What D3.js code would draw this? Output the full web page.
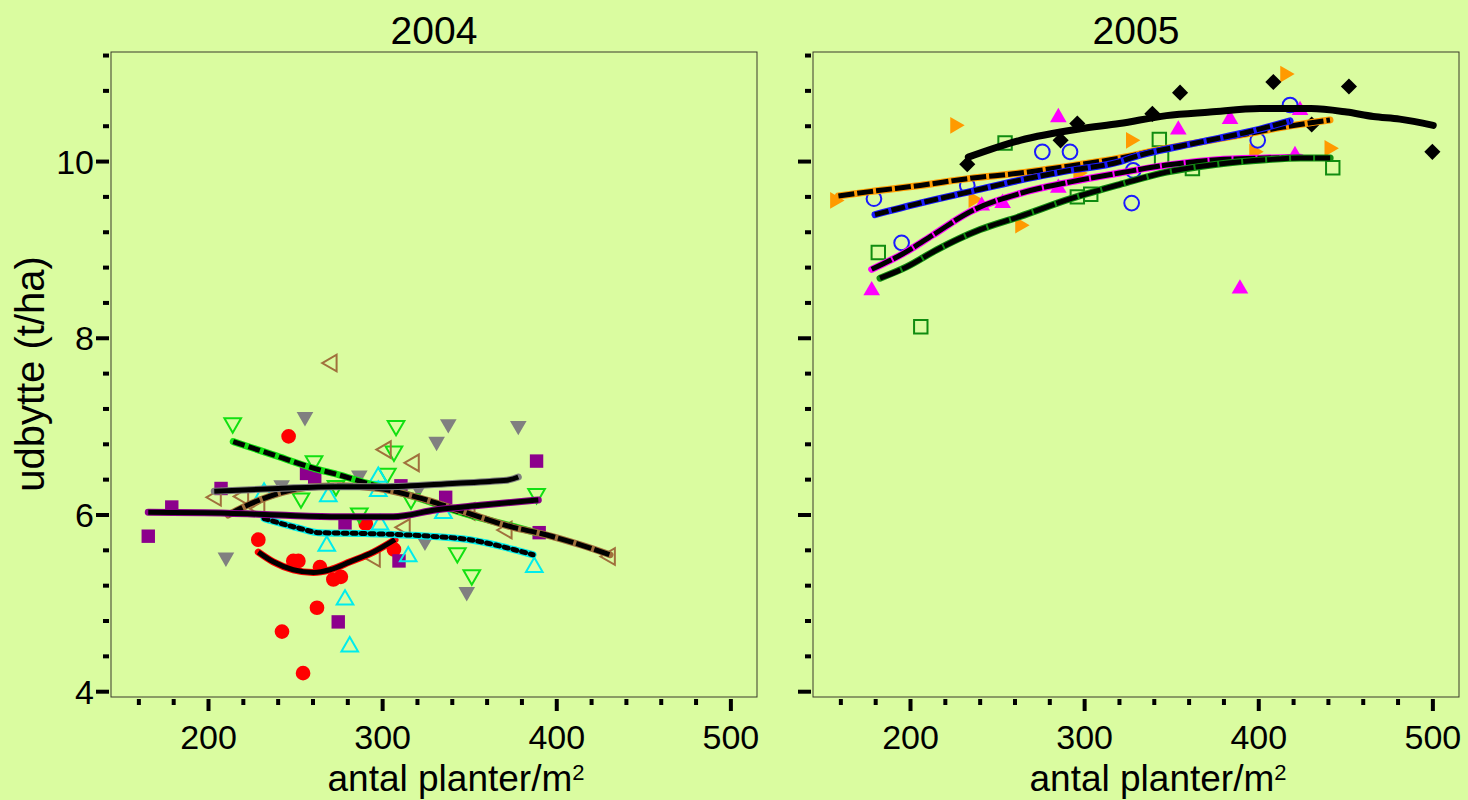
<!DOCTYPE html>
<html>
<head>
<meta charset="utf-8">
<script src="https://cdn.jsdelivr.net/npm/d3@7"></script>
<style>
  body { margin: 0; background: #dafca0; }
  svg { display: block; font-family: "Liberation Sans", Arial, sans-serif; }
</style>
</head>
<body>
<div id="chart"></div>
<script>
// 2004 data [plants/m2, t/ha]
var red2004 = [[246,6.89],[228.6,5.72],[248.7,5.48],[251.6,5.48],[264,5.41],[271.7,5.27],[276,5.30],[262.3,4.95],[242.2,4.68],[254.3,4.21],[290.3,5.90],[306.5,5.61]];
var purple2004 = [[165.4,5.76],[178.9,6.09],[207.2,6.30],[256.3,6.47],[261,6.43],[278.4,5.91],[274.5,4.79],[310.5,6.33],[309.4,5.48],[336.2,6.20],[388.4,6.61],[389.9,5.80]];
var gray2004 = [[255.4,7.11],[242,6.34],[210,5.52],[286.6,6.45],[331,6.83],[337.7,7.03],[377.9,7.01],[320.6,6.30],[324.3,5.70],[348.3,5.13]];
var green2004 = [[213.9,7.04],[260.6,6.61],[253.1,6.19],[307.7,7.01],[306.5,6.72],[302.7,6.47],[273.2,6.33],[316.3,6.18],[388.4,6.24],[286.6,6.02],[342.9,5.57],[351.2,5.32]];
var cyan2004 = [[231.9,6.25],[268.8,6.21],[267.9,5.65],[278.4,5.04],[281.1,4.51],[297.5,6.43],[297.5,6.27],[334.9,6.02],[298.5,5.89],[314.7,5.53],[387.1,5.41]];
var brown2004 = [[270.8,7.72],[301.9,6.74],[318,6.59],[204.3,6.20],[220,6.21],[229.3,6.07],[312.8,5.86],[295.6,5.51],[371.3,5.83],[430.6,5.53],[350,6.04]];

// 2004 fitted curves
var redFit2004 = [[228.6,5.58],[237.2,5.47],[248.7,5.38],[260.2,5.35],[269.8,5.38],[281.3,5.47],[294.7,5.58],[307.1,5.72]];
var cyanFit2004 = [[231.9,5.96],[240.5,5.91],[252,5.85],[263.5,5.80],[290,5.79],[327,5.76],[350,5.72],[365,5.66],[377,5.60],[386.4,5.55]];
var greenFit2004 = [[214.2,6.83],[237.2,6.68],[260.2,6.53],[275.5,6.45],[290.8,6.36],[317.6,6.21],[346.3,6.02],[375,5.87],[388,5.80]];
var brownFit2004 = [[211.3,6.0],[218,6.07],[229.5,6.17],[242.9,6.26],[256.2,6.31],[275.5,6.33],[298,6.30],[320,6.2],[346,6.04],[375,5.86],[391,5.79],[414,5.66],[430.6,5.55]];
var grayFit2004 = [[203.3,6.27],[240,6.30],[273,6.32],[300,6.32],[342.5,6.36],[361.6,6.38],[373,6.40],[377.9,6.43]];
var purpleFit2004 = [[165.4,6.03],[211,6.02],[240,6.0],[275,5.98],[306,5.98],[331,6.06],[356,6.11],[389.4,6.17]];

// 2005 data
var orange2005 = [[225.6,10.41],[326.5,10.24],[156.6,9.56],[236.1,9.57],[262.9,9.28],[296.3,9.87],[415.1,10.99],[440.5,10.15],[397.3,10.11]];
var magenta2005 = [[284.9,10.50],[240.9,9.50],[252.9,9.53],[284.9,9.70],[423.7,10.58],[383.5,10.48],[353.8,10.36],[420.8,10.07],[177.7,8.54],[389.2,8.56]];
var black2005 = [[295.8,10.43],[286.2,10.24],[232.6,9.97],[408.4,10.90],[451.8,10.85],[354.8,10.78],[338.9,10.54],[430.4,10.42],[499.7,10.11]];
var green2005 = [[254.3,10.21],[295.8,9.60],[303.5,9.63],[342.9,10.25],[344.2,10.04],[442.5,9.93],[361.9,9.92],[181.5,8.97],[205.9,8.13]];
var blue2005 = [[275.7,10.11],[291.6,10.11],[232.6,9.73],[179,9.58],[327,9.53],[194.9,9.08],[418,10.64],[399.4,10.24],[327.9,9.90]];

// 2005 fitted curves
var blackFit2005 = [[233.2,10.05],[262.9,10.24],[297.3,10.37],[320,10.43],[347,10.52],[372,10.56],[400.7,10.60],[430,10.60],[450.5,10.56],[465.8,10.51],[481,10.48],[500.2,10.41]];
var orangeFit2005 = [[158.6,9.61],[176.7,9.66],[205.5,9.73],[234.2,9.81],[262.9,9.87],[291.6,9.95],[320.3,10.04],[347.1,10.15],[366.3,10.22],[395,10.32],[414.1,10.39],[440.9,10.47]];
var blueFit2005 = [[179.6,9.40],[205.5,9.53],[234.2,9.66],[262.9,9.79],[291.6,9.90],[320.3,10.0],[328,10.05],[366.3,10.22],[395,10.34],[418,10.46]];
var magentaFit2005 = [[177.7,8.78],[195.9,8.96],[213,9.17],[234,9.43],[263,9.64],[292,9.77],[320,9.87],[347,9.96],[376,10.02],[404,10.04],[424,10.05]];
var greenFit2005 = [[182.5,8.68],[198,8.81],[215,9.0],[240,9.23],[263,9.38],[292,9.58],[320,9.74],[347,9.88],[376,9.97],[404,10.02],[424,10.04],[441,10.04]];

var xTicks = [200, 300, 400, 500];
var yTicks = [4, 6, 8, 10];
var titles = ['2004', '2005'];

var W = 1468, H = 800;
var plotTop = 52, plotBottom = 697;
var panels = [{ x0: 111, x1: 757 }, { x0: 813, x1: 1459 }];

var svg = d3.select('#chart').append('svg').attr('width', W).attr('height', H);
svg.append('rect').attr('width', W).attr('height', H).attr('fill', '#dafca0');

var y = d3.scaleLinear().domain([3.94, 11.24]).range([plotBottom, plotTop]);

var series2004 = [
  { data: red2004, shape: 'circle', fill: '#ff0000' },
  { data: purple2004, shape: 'square', fill: '#8c008c' },
  { data: gray2004, shape: 'down', fill: '#808080' },
  { data: green2004, shape: 'down', stroke: '#11e011' },
  { data: cyan2004, shape: 'up', stroke: '#00ecec' },
  { data: brown2004, shape: 'left', stroke: '#a0703c' }
];
var fits2004 = [
  { data: redFit2004, color: '#ff0000', dash: null },
  { data: cyanFit2004, color: '#00ecec', dash: '4,5' },
  { data: greenFit2004, color: '#11e011', dash: '12,4' },
  { data: brownFit2004, color: '#a0703c', dash: '16,3' },
  { data: grayFit2004, color: '#808080', dash: null },
  { data: purpleFit2004, color: '#8c008c', dash: null }
];
var series2005 = [
  { data: orange2005, shape: 'right', fill: '#ff9a00' },
  { data: magenta2005, shape: 'up', fill: '#ff00ff' },
  { data: black2005, shape: 'diamond', fill: '#000000' },
  { data: green2005, shape: 'square', stroke: '#108c10' },
  { data: blue2005, shape: 'circle', stroke: '#1a1aff' }
];
var fits2005 = [
  { data: blackFit2005, color: '#000000', dash: null },
  { data: orangeFit2005, color: '#ff9a00', dash: '16,3' },
  { data: blueFit2005, color: '#1a1aff', dash: '14,3' },
  { data: magentaFit2005, color: '#ff00ff', dash: '22,2' },
  { data: greenFit2005, color: '#108c10', dash: '22,2' }
];

var shapes = {
  circle: { type: d3.symbolCircle, size: 170, rot: 0 },
  square: { type: d3.symbolSquare, size: 180, rot: 0 },
  diamond: { type: d3.symbolSquare, size: 130, rot: 45 },
  up: { type: d3.symbolTriangle, size: 120, rot: 0 },
  down: { type: d3.symbolTriangle, size: 120, rot: 180 },
  left: { type: d3.symbolTriangle, size: 120, rot: -90 },
  right: { type: d3.symbolTriangle, size: 120, rot: 90 }
};

function drawPanel(p, title, series, fits) {
  var x = d3.scaleLinear().domain([144, 515]).range([p.x0, p.x1]);
  var g = svg.append('g');

  g.append('rect')
    .attr('x', p.x0).attr('y', plotTop)
    .attr('width', p.x1 - p.x0).attr('height', plotBottom - plotTop)
    .attr('fill', 'none').attr('stroke', '#3a3a2a').attr('stroke-width', 1);

  // x ticks
  var xt = d3.range(160, 501, 20);
  g.selectAll('.xt').data(xt).enter().append('line')
    .attr('x1', d => x(d)).attr('x2', d => x(d))
    .attr('y1', plotBottom + 2).attr('y2', d => plotBottom + (d % 100 === 0 ? 14 : 8))
    .attr('stroke', '#000').attr('stroke-width', 4);
  g.selectAll('.xl').data(xTicks).enter().append('text')
    .attr('x', d => x(d)).attr('y', plotBottom + 52)
    .attr('text-anchor', 'middle').attr('font-size', '34px')
    .text(d => d);

  // y ticks
  var yt = d3.range(4, 11.3, 0.4);
  g.selectAll('.yt').data(yt).enter().append('line')
    .attr('x1', p.x0 - 2).attr('x2', d => p.x0 - (Math.abs(d - Math.round(d / 2) * 2) < 0.01 ? 15 : 8))
    .attr('y1', d => y(d)).attr('y2', d => y(d))
    .attr('stroke', '#000').attr('stroke-width', 4);
  if (p.x0 < 400) {
    g.selectAll('.yl').data(yTicks).enter().append('text')
      .attr('x', p.x0 - 17).attr('y', d => y(d) + 12)
      .attr('text-anchor', 'end').attr('font-size', '34px')
      .text(d => d);
  }

  g.append('text')
    .attr('x', (p.x0 + p.x1) / 2).attr('y', 44)
    .attr('text-anchor', 'middle').attr('font-size', '39px')
    .text(title);

  var xl = g.append('text')
    .attr('x', (p.x0 + p.x1) / 2 + 22).attr('y', 791)
    .attr('text-anchor', 'middle').attr('font-size', '37px')
    .text('antal planter/m');
  xl.append('tspan').attr('dy', -11).attr('font-size', '22px').text('2');

  // markers
  series.forEach(s => {
    var sh = shapes[s.shape];
    var sym = d3.symbol().type(sh.type).size(sh.size);
    g.selectAll(null).data(s.data).enter().append('path')
      .attr('d', sym)
      .attr('transform', d => `translate(${x(d[0])},${y(d[1])}) rotate(${sh.rot})`)
      .attr('fill', s.fill || 'none')
      .attr('stroke', s.stroke || 'none')
      .attr('stroke-width', s.stroke ? 2 : 0);
  });

  // fitted curves: coloured line under a black one
  var line = d3.line().x(d => x(d[0])).y(d => y(d[1])).curve(d3.curveMonotoneX);
  fits.forEach(f => {
    g.append('path').attr('d', line(f.data))
      .attr('fill', 'none').attr('stroke', f.color)
      .attr('stroke-width', 7).attr('stroke-linecap', 'round');
    g.append('path').attr('d', line(f.data))
      .attr('fill', 'none').attr('stroke', '#000')
      .attr('stroke-width', 5)
      .attr('stroke-linecap', f.dash === '4,5' ? 'round' : 'butt')
      .attr('stroke-dasharray', f.dash);
  });
}

drawPanel(panels[0], titles[0], series2004, fits2004);
drawPanel(panels[1], titles[1], series2005, fits2005);

svg.append('text')
  .attr('transform', 'translate(44, 374) rotate(-90)')
  .attr('text-anchor', 'middle').attr('font-size', '40px')
  .text('udbytte (t/ha)');
</script>
</body>
</html>
